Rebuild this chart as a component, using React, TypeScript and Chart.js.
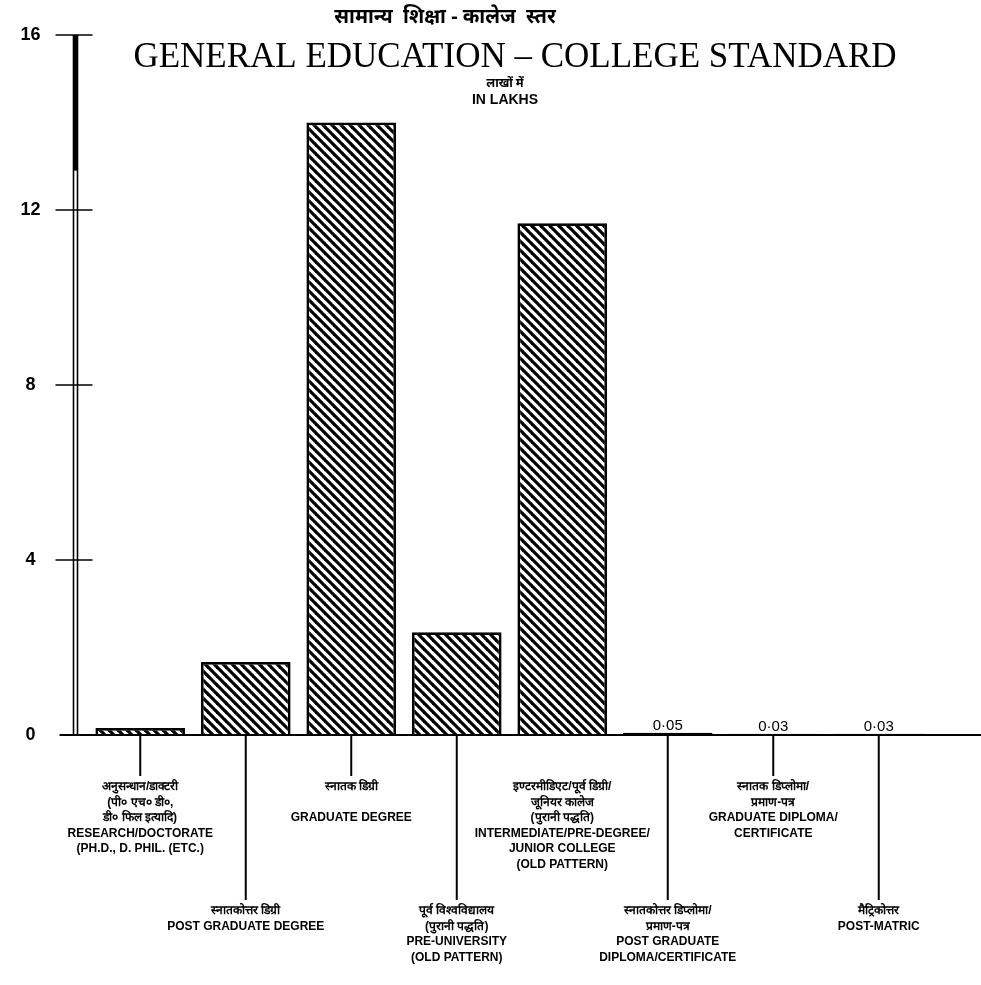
import React, { useEffect, useRef } from "react";
import { Chart, registerables } from "chart.js";

Chart.register(...registerables);

// ---- data ----
const categoryLabels: string[][] = [
  ["अनुसन्धान/डाक्टरी", "(पी० एच० डी०,", "डी० फिल इत्यादि)", "RESEARCH/DOCTORATE", "(PH.D., D. PHIL. (ETC.)"],
  ["स्नातकोत्तर डिग्री", "POST GRADUATE DEGREE"],
  ["स्नातक डिग्री", "", "GRADUATE DEGREE"],
  ["पूर्व विश्वविद्यालय", "(पुरानी पद्धति)", "PRE-UNIVERSITY", "(OLD PATTERN)"],
  ["इण्टरमीडिएट/पूर्व डिग्री/", "जूनियर कालेज", "(पुरानी पद्धति)", "INTERMEDIATE/PRE-DEGREE/", "JUNIOR COLLEGE", "(OLD PATTERN)"],
  ["स्नातकोत्तर डिप्लोमा/", "प्रमाण-पत्र", "POST GRADUATE", "DIPLOMA/CERTIFICATE"],
  ["स्नातक डिप्लोमा/", "प्रमाण-पत्र", "GRADUATE DIPLOMA/", "CERTIFICATE"],
  ["मैट्रिकोत्तर", "POST-MATRIC"],
];
const labelRow = [0, 1, 0, 1, 0, 1, 0, 1];
const hasLeader = [true, true, true, true, false, true, true, true];
const enrolmentLakhs = [0.16, 1.67, 14.0, 2.35, 11.7, 0.05, 0.03, 0.03];
const valueLabels = ["", "", "", "", "", "0·05", "0·03", "0·03"];
const yTickValues = [0, 4, 8, 12, 16];

const titleHindi = "सामान्य  शिक्षा - कालेज  स्तर";
const titleEnglish = "GENERAL EDUCATION – COLLEGE STANDARD";
const unitHindi = "लाखों में";
const unitEnglish = "IN LAKHS";

const W = 981;
const H = 985;
const LINE_H = 15.5;
const ROW_SHIFT = 8;
const X_PAD = 44;

function makeHatch(): CanvasPattern | string {
  const s = 9;
  const c = document.createElement("canvas");
  c.width = s;
  c.height = s;
  const g = c.getContext("2d");
  if (!g) return "#fff";
  g.fillStyle = "#fff";
  g.fillRect(0, 0, s, s);
  g.strokeStyle = "#000";
  g.lineWidth = 3.2;
  for (const k of [-s, 0, s]) {
    g.beginPath();
    g.moveTo(k - 1, -1);
    g.lineTo(k + s + 1, s + 1);
    g.stroke();
  }
  const p = g.createPattern(c, "repeat");
  return p || "#fff";
}

const decorPlugin = {
  id: "decor",
  afterDatasetsDraw(chart: any) {
    const { ctx, chartArea, scales } = chart;
    const y = scales.y;
    const x = scales.x;
    const y0 = y.getPixelForValue(0);
    const yTop = y.getPixelForValue(16);
    ctx.save();
    ctx.strokeStyle = "#000";
    ctx.fillStyle = "#000";
    // double vertical axis
    const ax1 = chartArea.left - 14;
    const ax2 = chartArea.left - 10;
    ctx.lineWidth = 1.6;
    for (const ax of [ax1, ax2]) {
      ctx.beginPath();
      ctx.moveTo(ax, yTop);
      ctx.lineTo(ax, y0);
      ctx.stroke();
    }
    ctx.fillRect(ax1, yTop, ax2 - ax1, y.getPixelForValue(12.9) - yTop);
    // tick marks crossing the axis
    ctx.lineWidth = 1.6;
    for (const v of yTickValues) {
      if (v === 0) continue;
      const py = y.getPixelForValue(v);
      ctx.beginPath();
      ctx.moveTo(chartArea.left - 32, py);
      ctx.lineTo(chartArea.left + 5, py);
      ctx.stroke();
    }
    // baseline
    ctx.lineWidth = 2.2;
    ctx.beginPath();
    ctx.moveTo(chartArea.left - 28, y0);
    ctx.lineTo(chart.width, y0);
    ctx.stroke();
    // leader lines
    ctx.lineWidth = 2;
    for (let i = 0; i < enrolmentLakhs.length; i++) {
      if (!hasLeader[i]) continue;
      const px = x.getPixelForValue(i);
      const labelTop = y0 + X_PAD + labelRow[i] * ROW_SHIFT * LINE_H;
      ctx.beginPath();
      ctx.moveTo(px, y0);
      ctx.lineTo(px, labelTop - 3);
      ctx.stroke();
    }
    // value labels on tiny bars
    ctx.font = "15px 'Liberation Sans', sans-serif";
    ctx.textAlign = "center";
    ctx.textBaseline = "middle";
    for (let i = 0; i < enrolmentLakhs.length; i++) {
      if (!valueLabels[i]) continue;
      const px = x.getPixelForValue(i);
      const py = y.getPixelForValue(enrolmentLakhs[i]);
      ctx.fillText(valueLabels[i], px, py - 7);
    }
    // titles
    ctx.font = "bold 20px 'Noto Sans', sans-serif";
    ctx.fillText(titleHindi, 445, 17);
    ctx.font = "35px 'Liberation Serif', serif";
    ctx.fillText(titleEnglish, 515, 58);
    ctx.font = "bold 12px 'Noto Sans', sans-serif";
    ctx.fillText(unitHindi, 505, 84);
    ctx.font = "bold 14px 'Liberation Sans', sans-serif";
    ctx.fillText(unitEnglish, 505, 100);
    ctx.restore();
  },
};

export default function App() {
  const ref = useRef<HTMLCanvasElement | null>(null);
  useEffect(() => {
    if (!ref.current) return;
    const hatch = makeHatch();
    const labels = categoryLabels.map((l, i) =>
      labelRow[i] ? [...new Array(ROW_SHIFT).fill(""), ...l] : l
    );
    const chart = new Chart(ref.current, {
      type: "bar",
      data: {
        labels,
        datasets: [
          {
            data: enrolmentLakhs,
            backgroundColor: hatch as any,
            borderColor: "#000",
            borderWidth: 2.8,
            categoryPercentage: 1,
            barPercentage: 0.85,
          },
        ],
      },
      options: {
        responsive: false,
        animation: false,
        layout: { padding: { top: 35, right: 49.5, left: 0, bottom: 0 } },
        plugins: { legend: { display: false }, tooltip: { enabled: false } },
        scales: {
          x: {
            grid: { display: false, drawTicks: false },
            border: { display: false },
            ticks: {
              autoSkip: false,
              maxRotation: 0,
              minRotation: 0,
              padding: X_PAD,
              color: "#000",
              font: { family: "'Liberation Sans', sans-serif", size: 12, weight: "bold", lineHeight: LINE_H + "px" },
            },
            afterFit: (s: any) => {
              s.height = 250;
              s.paddingLeft = 0;
              s.paddingRight = 0;
            },
          },
          y: {
            min: 0,
            max: 16,
            grid: { display: false, drawTicks: false },
            border: { display: false },
            afterBuildTicks: (s: any) => {
              s.ticks = yTickValues.map((v) => ({ value: v }));
            },
            ticks: {
              crossAlign: "center",
              padding: 47,
              color: "#000",
              font: { family: "'Liberation Sans', sans-serif", size: 18, weight: "bold" },
            },
            afterFit: (s: any) => {
              s.width = 87.5;
              s.paddingTop = 0;
              s.paddingBottom = 0;
            },
          },
        },
      },
      plugins: [decorPlugin],
    });
    return () => chart.destroy();
  }, []);
  return (
    <div style={{ position: "fixed", left: 0, top: 0, width: W, height: H, background: "#fff" }}>
      <canvas ref={ref} width={W} height={H} style={{ width: W, height: H }} />
    </div>
  );
}
